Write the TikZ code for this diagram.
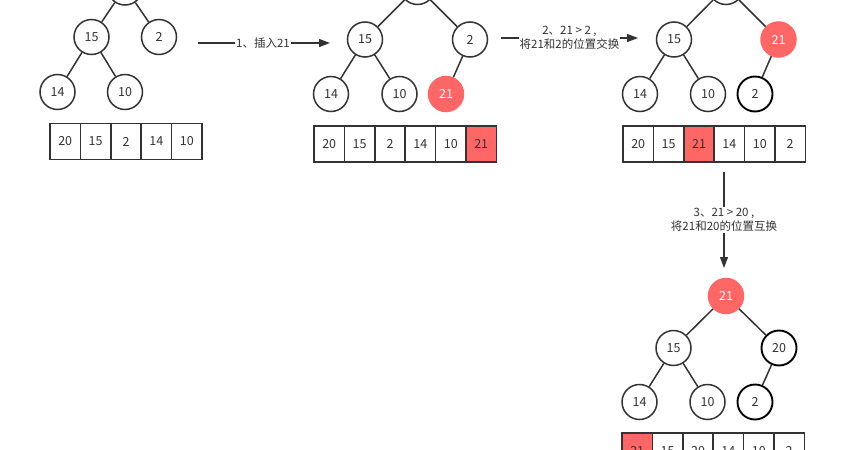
\documentclass[tikz,border=0pt]{standalone}
\usepackage{fontspec}
\setmainfont{Noto Sans CJK SC}
\usetikzlibrary{arrows.meta,positioning}
\definecolor{hotred}{HTML}{FF6666}
\definecolor{inkgray}{HTML}{333333}
\tikzstyle{key}=[circle, draw=inkgray, line width=1.5pt, minimum size=35pt, inner sep=0pt, fill=white, text=inkgray, font=\fontsize{12.5}{14}\selectfont]
\tikzstyle{hot}=[key, fill=hotred, draw=hotred, text=white]
\tikzstyle{moved}=[key, draw=black, line width=1.9pt]
\tikzstyle{cell}=[rectangle, draw=inkgray, line width=1.5pt, minimum width=30.4pt, minimum height=36pt, inner sep=0pt, outer sep=0pt, fill=white, text=inkgray, font=\fontsize{12.5}{14}\selectfont]
\tikzstyle{hotcell}=[cell, fill=hotred]
\tikzstyle{edge}=[draw=inkgray, line width=1.5pt]
\tikzstyle{flow}=[draw=inkgray, line width=1.2pt, -{Triangle[length=11pt,width=8pt]}]
\tikzstyle{annot}=[align=center, fill=white, inner sep=1pt, text=inkgray, font=\fontsize{11.5}{14}\selectfont]
\newcommand{\drawedges}[1]
{
  \draw[edge] (#1root) -- (#1l) (#1root) -- (#1r);
  \draw[edge] (#1l) -- (#1ll) (#1l) -- (#1lr);
}

\begin{document}
\begin{tikzpicture}[x=1pt,y=-1pt]
	\useasboundingbox (0,0) rectangle (844,450);
	\clip (0,0) rectangle (844,450);

	% heap before the insert
	\node[key](aroot) at (125,-12.5){20};
	\node[key](al) at (91.5,37){15};
	\node[key](ar) at (159,37){2};
	\node[key](all) at (57.5,92){14};
	\node[key](alr) at (125,92){10};
	\drawedges{a}
	\node[cell, anchor=west](a1) at (50,141.5){20};
	\node[cell, right=0pt of a1](a2){15};
	\node[cell, right=0pt of a2](a3){2};
	\node[cell, right=0pt of a3](a4){14};
	\node[cell, right=0pt of a4](a5){10};

	% 21 appended as last leaf
	\node[key](broot) at (417.5,-13){20};
	\node[key](bl) at (365,39.5){15};
	\node[key](br) at (470,39.5){2};
	\node[key](bll) at (331,94){14};
	\node[key](blr) at (399.5,94){10};
	\node[hot](brl) at (446,94){21};
	\drawedges{b}
	\draw[edge] (br) -- (brl);
	\node[cell, anchor=west](b1) at (314,144){20};
	\node[cell, right=0pt of b1](b2){15};
	\node[cell, right=0pt of b2](b3){2};
	\node[cell, right=0pt of b3](b4){14};
	\node[cell, right=0pt of b4](b5){10};
	\node[hotcell, right=0pt of b5](b6){21};

	% 21 swapped with 2
	\node[key](croot) at (726,-13){20};
	\node[key](cl) at (674,39.5){15};
	\node[hot](cr) at (778.5,39.5){21};
	\node[key](cll) at (640,94){14};
	\node[key](clr) at (708,94){10};
	\node[moved](crl) at (755,94){2};
	\drawedges{c}
	\draw[edge] (cr) -- (crl);
	\node[cell, anchor=west](c1) at (623,144){20};
	\node[cell, right=0pt of c1](c2){15};
	\node[hotcell, right=0pt of c2](c3){21};
	\node[cell, right=0pt of c3](c4){14};
	\node[cell, right=0pt of c4](c5){10};
	\node[cell, right=0pt of c5](c6){2};

	% 21 swapped with 20
	\node[hot](droot) at (726,296){21};
	\node[key](dl) at (673.5,348){15};
	\node[moved](dr) at (779,348){20};
	\node[key](dll) at (639.5,402){14};
	\node[key](dlr) at (707.5,402){10};
	\node[moved](drl) at (755,402){2};
	\drawedges{d}
	\draw[edge] (dr) -- (drl);
	\node[hotcell, anchor=west](d1) at (622,451){21};
	\node[cell, right=0pt of d1](d2){15};
	\node[cell, right=0pt of d2](d3){20};
	\node[cell, right=0pt of d3](d4){14};
	\node[cell, right=0pt of d4](d5){10};
	\node[cell, right=0pt of d5](d6){2};

	% steps
	\coordinate (s1a) at (198,43);
	\coordinate (s1b) at (330,43);
	\draw[flow] (s1a) -- (s1b) node[annot, midway, xshift=-1pt]{1、插入21};
	\coordinate (s2a) at (501,38);
	\coordinate (s2b) at (638,38);
	\draw[flow] (s2a) -- (s2b) node[annot, midway]{2、21 > 2 ,\\将21和2的位置交换};
	\coordinate (s3a) at (724,172);
	\coordinate (s3b) at (724,268);
	\draw[flow] (s3a) -- (s3b) node[annot, midway]{3、21 > 20 ,\\将21和20的位置互换};
\end{tikzpicture}
\end{document}
